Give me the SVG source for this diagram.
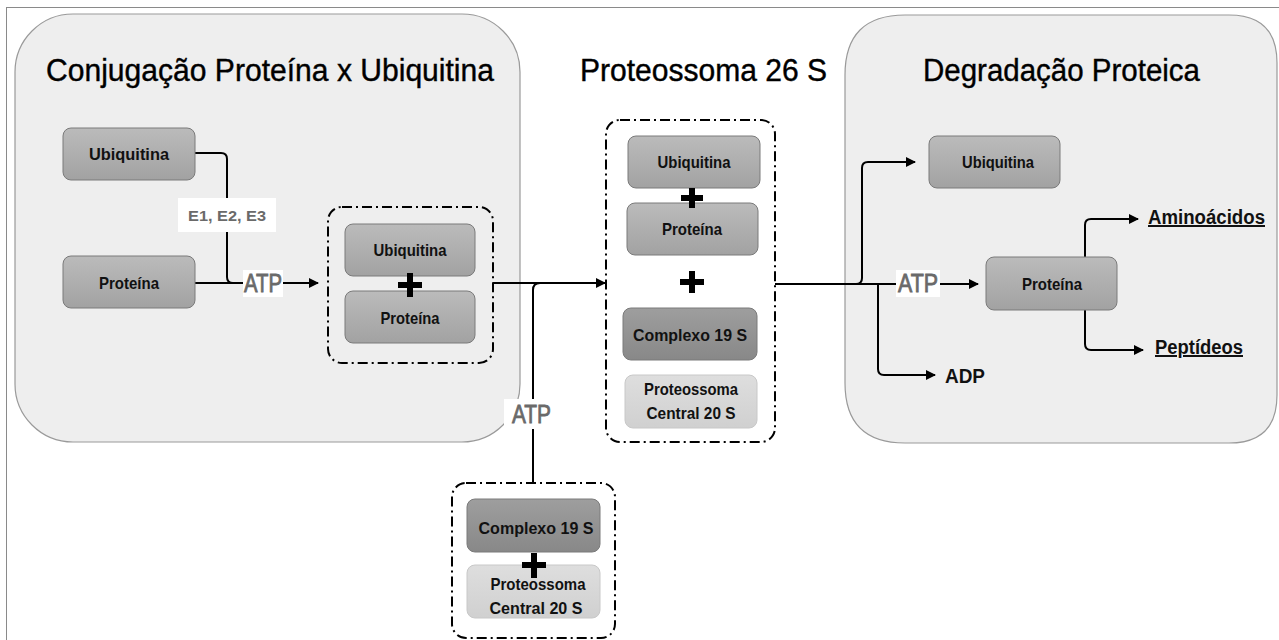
<svg xmlns="http://www.w3.org/2000/svg" width="1279" height="640" viewBox="0 0 1279 640">
<defs>
<linearGradient id="gMid" x1="0" y1="0" x2="0" y2="1">
<stop offset="0" stop-color="#bbbbbb"/><stop offset="1" stop-color="#a2a2a2"/>
</linearGradient>
<linearGradient id="gDark" x1="0" y1="0" x2="0" y2="1">
<stop offset="0" stop-color="#9e9e9e"/><stop offset="1" stop-color="#888888"/>
</linearGradient>
<linearGradient id="gLight" x1="0" y1="0" x2="0" y2="1">
<stop offset="0" stop-color="#dedede"/><stop offset="1" stop-color="#d0d0d0"/>
</linearGradient>
<marker id="arr" viewBox="0 0 10 10" refX="9" refY="5" markerWidth="10" markerHeight="10" markerUnits="userSpaceOnUse" orient="auto">
<path d="M0,0 L10,5 L0,10 z" fill="#000"/>
</marker>
<style>
.panel{fill:#eeeeee;stroke:#9a9a9a;stroke-width:1.2}
.title{font-family:"Liberation Sans",Arial,sans-serif;font-size:31px;fill:#000;stroke:#000;stroke-width:0.4}
.box{fill:url(#gMid);stroke:#7a7a7a;stroke-width:1}
.boxd{fill:url(#gDark);stroke:#7a7a7a;stroke-width:1}
.boxl{fill:url(#gLight);stroke:#c8c8c8;stroke-width:1}
.lbl{font-family:"Liberation Sans",Arial,sans-serif;font-size:17px;font-weight:bold;fill:#111;text-anchor:middle}
.dash{fill:none;stroke:#000;stroke-width:2;stroke-dasharray:10 4 2 4}
.plus{stroke:#000;stroke-width:6;fill:none}
.conn{fill:none;stroke:#000;stroke-width:2}
.tag{fill:#fff}
.atp{font-family:"Liberation Sans",Arial,sans-serif;font-size:25px;fill:#6a6a6a;stroke:#6a6a6a;stroke-width:0.8}
.enz{font-family:"Liberation Sans",Arial,sans-serif;font-size:15px;font-weight:bold;fill:#6a6a6a;text-anchor:middle}
.out{font-family:"Liberation Sans",Arial,sans-serif;font-size:20px;font-weight:bold;fill:#111}
</style>
</defs>
<rect width="1279" height="640" fill="#fff"/>
<rect x="6.5" y="7.5" width="1300" height="660" fill="none" stroke="#8a8a8a" stroke-width="1"/>

<g id="panel-conjugacao">
<rect class="panel" x="15" y="14" width="505" height="428" rx="58" ry="58"/>
<text class="title" x="46" y="81" textLength="448" lengthAdjust="spacingAndGlyphs">Conjugação Proteína x Ubiquitina</text>
</g>
<g id="panel-degradacao">
<path class="panel" d="M905,15 H1229 Q1277,15 1277,63 V395 Q1277,443 1229,443 H905 Q845,443 845,383 V75 Q845,15 905,15 Z"/>
<text class="title" x="923" y="81" textLength="277" lengthAdjust="spacingAndGlyphs">Degradação Proteica</text>
</g>
<g id="title-proteossoma">
<text class="title" x="580" y="81" textLength="247" lengthAdjust="spacingAndGlyphs">Proteossoma 26 S</text>
</g>

<g id="connectors">
<path class="conn" d="M195,153 H221 Q227,153 227,159 V277 Q227,283 233,283"/>
<path class="conn" d="M195,283 H318" marker-end="url(#arr)"/>
<path class="conn" d="M493,283 H605" marker-end="url(#arr)"/>
<path class="conn" d="M533,483 V290 Q533,283 540,283"/>
<path class="conn" d="M775,284 H978" marker-end="url(#arr)"/>
<path class="conn" d="M856,284 Q862,284 862,278 V168 Q862,162 868,162 H915" marker-end="url(#arr)"/>
<path class="conn" d="M878,284 V369 Q878,375 884,375 H935" marker-end="url(#arr)"/>
<path class="conn" d="M1085,257 V225 Q1085,219 1091,219 H1138" marker-end="url(#arr)"/>
<path class="conn" d="M1085,310 V344 Q1085,350 1091,350 H1143" marker-end="url(#arr)"/>
<rect class="tag" x="178" y="198" width="98" height="34"/>
<text class="enz" x="227" y="221" textLength="78" lengthAdjust="spacingAndGlyphs">E1, E2, E3</text>
<rect class="tag" x="243" y="270" width="40" height="27"/>
<text class="atp" x="244" y="292" textLength="38" lengthAdjust="spacingAndGlyphs">ATP</text>
<rect class="tag" x="504" y="399" width="52" height="30"/>
<text class="atp" x="512" y="423" textLength="39" lengthAdjust="spacingAndGlyphs">ATP</text>
<rect class="tag" x="896" y="270" width="44" height="27"/>
<text class="atp" x="898" y="292" textLength="40" lengthAdjust="spacingAndGlyphs">ATP</text>
</g>

<g id="ubiquitina-livre">
<rect class="box" x="63" y="128" width="132" height="52" rx="8"/>
<text class="lbl" x="129" y="160" textLength="80" lengthAdjust="spacingAndGlyphs">Ubiquitina</text>
</g>
<g id="proteina-livre">
<rect class="box" x="63" y="256" width="132" height="52" rx="8"/>
<text class="lbl" x="129" y="289" textLength="60" lengthAdjust="spacingAndGlyphs">Proteína</text>
</g>

<g id="conjugado">
<rect class="dash" x="328" y="207" width="165" height="156" rx="14"/>
<rect class="box" x="345" y="224" width="130" height="52" rx="8"/>
<text class="lbl" x="410" y="256" textLength="73" lengthAdjust="spacingAndGlyphs">Ubiquitina</text>
<rect class="box" x="345" y="291" width="130" height="52" rx="8"/>
<text class="lbl" x="410" y="324" textLength="59" lengthAdjust="spacingAndGlyphs">Proteína</text>
<path class="plus" d="M398,285 H422 M410,273 V297"/>
</g>

<g id="proteossoma-26s">
<rect class="dash" x="606" y="120" width="169" height="322" rx="14"/>
<rect class="box" x="628" y="136" width="132" height="52" rx="8"/>
<text class="lbl" x="694" y="168" textLength="73" lengthAdjust="spacingAndGlyphs">Ubiquitina</text>
<rect class="box" x="627" y="203" width="131" height="52" rx="8"/>
<text class="lbl" x="692" y="235" textLength="60" lengthAdjust="spacingAndGlyphs">Proteína</text>
<path class="plus" d="M681,198 H703 M692,188 V208"/>
<path class="plus" d="M680,282 H704 M692,271 V293"/>
<rect class="boxd" x="623" y="308" width="134" height="52" rx="8"/>
<text class="lbl" x="690" y="341" textLength="114" lengthAdjust="spacingAndGlyphs">Complexo 19 S</text>
<rect class="boxl" x="625" y="375" width="132" height="53" rx="8"/>
<text class="lbl" x="691" y="395" textLength="94" lengthAdjust="spacingAndGlyphs">Proteossoma</text>
<text class="lbl" x="691" y="419" textLength="89" lengthAdjust="spacingAndGlyphs">Central 20 S</text>
</g>

<g id="complexo-livre">
<rect class="dash" x="452" y="483" width="163" height="155" rx="14"/>
<rect class="boxd" x="467" y="499" width="133" height="53" rx="8"/>
<text class="lbl" x="536" y="534" textLength="115" lengthAdjust="spacingAndGlyphs">Complexo 19 S</text>
<rect class="boxl" x="467" y="565" width="133" height="53" rx="8"/>
<text class="lbl" x="538" y="590" textLength="95" lengthAdjust="spacingAndGlyphs">Proteossoma</text>
<text class="lbl" x="536" y="614" textLength="93" lengthAdjust="spacingAndGlyphs">Central 20 S</text>
<path class="plus" d="M522,565 H546 M534,553 V578"/>
</g>

<g id="ubiquitina-liberada">
<rect class="box" x="929" y="136" width="131" height="52" rx="8"/>
<text class="lbl" x="998" y="168" textLength="72" lengthAdjust="spacingAndGlyphs">Ubiquitina</text>
</g>
<g id="proteina-degradada">
<rect class="box" x="986" y="257" width="131" height="53" rx="8"/>
<text class="lbl" x="1052" y="290" textLength="60" lengthAdjust="spacingAndGlyphs">Proteína</text>
</g>
<g id="adp">
<text class="out" x="945" y="383" textLength="40" lengthAdjust="spacingAndGlyphs">ADP</text>
</g>
<g id="aminoacidos">
<text class="out" x="1148" y="224" text-decoration="underline" textLength="117" lengthAdjust="spacingAndGlyphs">Aminoácidos</text>
</g>
<g id="peptideos">
<text class="out" x="1155" y="354" text-decoration="underline" textLength="88" lengthAdjust="spacingAndGlyphs">Peptídeos</text>
</g>
</svg>
